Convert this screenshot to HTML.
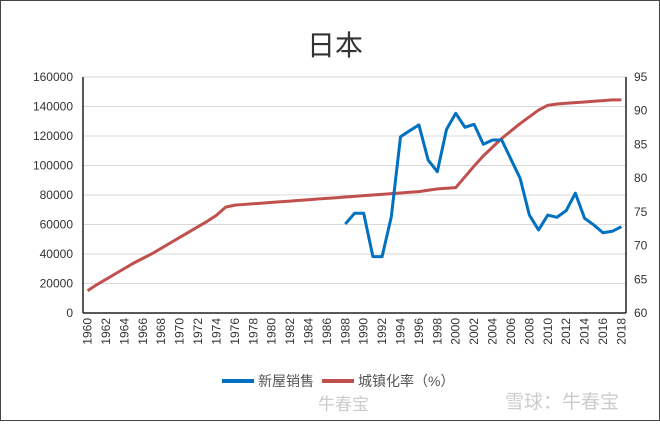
<!DOCTYPE html>
<html><head><meta charset="utf-8"><style>
body{margin:0;background:#fff}
svg text{font-family:"Liberation Sans","Noto Sans CJK SC",sans-serif}
</style></head><body>
<svg id="c" width="660" height="421" xmlns="http://www.w3.org/2000/svg">
<rect x="0.5" y="0.5" width="659" height="420" fill="#fff" stroke="#444"/>
<text x="335" y="55" font-size="28" text-anchor="middle" fill="#333">日本</text>
<g id="grid"></g><g id="axes"></g><g id="series"></g>
<g>
<line x1="222" y1="381" x2="254" y2="381" stroke="#0070c0" stroke-width="4"/>
<text x="258" y="386" font-size="14" fill="#555">新屋销售</text>
<line x1="322" y1="381" x2="354" y2="381" stroke="#c0504d" stroke-width="4"/>
<text x="358" y="386" font-size="14" fill="#555">城镇化率（%）</text>
</g>
<text x="318" y="410" font-size="17" fill="#ccc">牛春宝</text>
<text x="505" y="408" font-size="19" fill="#ccc">雪球：牛春宝</text>
</svg>
<script>
const years=[];for(let y=1960;y<=2018;y++)years.push(y);
const leftTicks=[0,20000,40000,60000,80000,100000,120000,140000,160000];
const rightTicks=[60,65,70,75,80,85,90,95];
const salesYears=[1988,1989,1990,1991,1992,1993,1994,1995,1996,1997,1998,1999,2000,2001,2002,2003,2004,2005,2006,2007,2008,2009,2010,2011,2012,2013,2014,2015,2016,2017,2018];
const sales=[60300,67600,67600,38200,38200,65300,119500,123600,127500,103700,95800,124500,135400,125900,127900,114400,117300,117300,104200,91300,66400,56300,66400,64900,69400,81200,64200,59700,54400,55400,58500];
const urban=[63.3,64.2,65.0,65.8,66.6,67.4,68.1,68.8,69.6,70.4,71.2,72.0,72.8,73.6,74.5,75.7,
76.0,76.1,76.2,76.3,76.4,76.5,76.6,76.7,76.8,76.9,77.0,77.1,77.2,77.3,77.4,77.5,77.6,77.7,77.8,77.9,78.0,78.2,78.4,78.5,
78.6,80.2,81.8,83.3,84.6,85.9,87.0,88.1,89.1,90.1,90.8,91.0,91.1,91.2,91.3,91.4,91.5,91.6,91.6];
const L=83,R=626,T=77,B=313,NS="http://www.w3.org/2000/svg";
const bw=(R-L)/years.length;
const x=y=>L+(y-1960+0.5)*bw;
const yL=v=>B-(v-0)/(160000)*(B-T);
const yR=v=>B-(v-60)/35*(B-T);
function mk(p,t,a,txt){const e=document.createElementNS(NS,t);for(const k in a)e.setAttribute(k,a[k]);if(txt!=null)e.textContent=txt;document.getElementById(p).appendChild(e);return e;}
leftTicks.forEach(v=>{
 const g=mk('grid','line',{x1:L,x2:R,y1:yL(v),y2:yL(v),stroke:'#d9d9d9','stroke-width':1});
 
 
 const t=mk('axes','text',{x:73,y:yL(v)+4,'font-size':12,'text-anchor':'end',fill:'#333'},v);
 
 
});
rightTicks.forEach(v=>{
 const t=mk('axes','text',{x:634,y:yR(v)+4,'font-size':12,fill:'#333'},v);
 
 
});
years.forEach(y=>{if((y-1960)%2)return;
 const t=mk('axes','text',{transform:`translate(${x(y)+4},${318}) rotate(-90)`,'font-size':12,'text-anchor':'end',fill:'#333'},y);
 
 
});
let a=mk('axes','line',{x1:L,x2:R,y1:B,y2:B,stroke:'#222','stroke-width':1.5});

a=mk('axes','line',{x1:L,x2:L,y1:T,y2:B,stroke:'#222','stroke-width':1.5});

a=mk('axes','line',{x1:R,x2:R,y1:T,y2:B,stroke:'#222','stroke-width':1.5});

const pu=mk('series','polyline',{points:urban.map((v,i)=>x(years[i])+','+yR(v)).join(' '),fill:'none',stroke:'#c0504d','stroke-width':3,'stroke-linejoin':'round'});


const ps=mk('series','polyline',{points:sales.map((v,i)=>x(salesYears[i])+','+yL(v)).join(' '),fill:'none',stroke:'#0070c0','stroke-width':3,'stroke-linejoin':'round'});


</script>
</body></html>
